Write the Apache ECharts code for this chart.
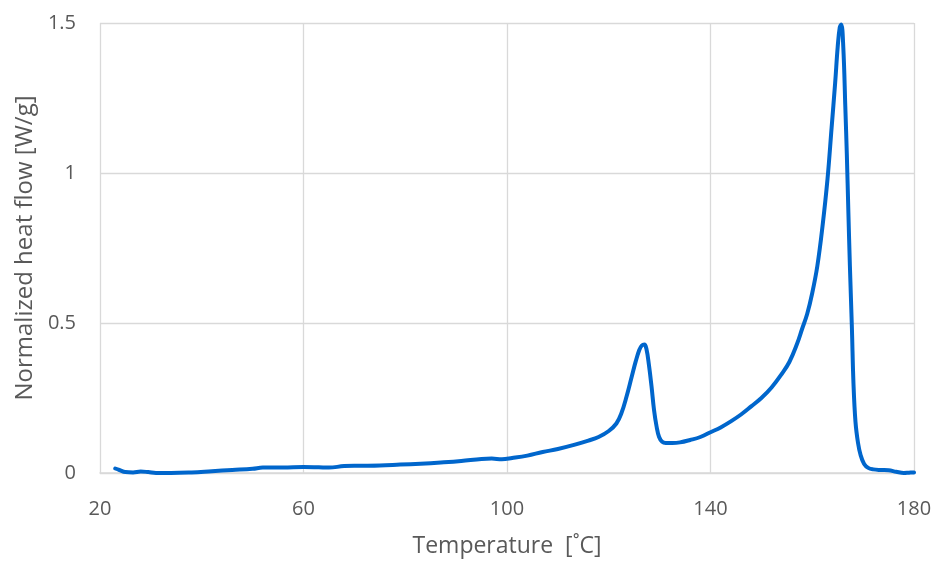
<!DOCTYPE html>
<html>
<head>
<meta charset="utf-8">
<script src="https://cdn.jsdelivr.net/npm/echarts@6/dist/echarts.min.js"></script>
<style>
  html, body { margin: 0; padding: 0; background: #ffffff; overflow: hidden; }
  #chart { width: 937px; height: 562px; }
</style>
</head>
<body>
<div id="chart"></div>
<script>
// DSC heating curve: temperature (°C) and normalized heat flow (W/g)
const temperature = [
  23, 23.8, 25, 26.5, 28, 29.5, 31, 34, 38, 42, 46, 50, 52, 56, 60, 63, 65, 68, 71, 75,
  79, 83, 87, 91, 95, 97, 99, 101, 104, 107, 110, 113, 116, 118, 120, 121.5, 122.5, 123.5,
  124.5, 125.3, 126, 126.5, 127, 127.4, 127.9, 128.4, 128.9, 129.4, 129.9, 130.5, 131.2,
  132.5, 134, 136, 138, 140, 142, 144, 146, 148, 150, 152, 154, 155.5, 157, 158, 159, 160,
  161, 162, 163, 163.8, 164.5, 165, 165.4, 165.7, 166.1, 166.5, 166.8, 167.1, 167.4, 167.8,
  168.1, 168.5, 169, 169.5, 170.2, 171, 172, 173.5, 175, 176.5, 178, 179, 180
];
const heatFlow = [
  0.015, 0.010, 0.003, 0.002, 0.005, 0.003, 0.000, 0.000, 0.002, 0.006, 0.010, 0.014, 0.018,
  0.018, 0.020, 0.019, 0.018, 0.023, 0.024, 0.025, 0.028, 0.031, 0.035, 0.040, 0.047, 0.048,
  0.046, 0.050, 0.058, 0.070, 0.080, 0.093, 0.108, 0.120, 0.140, 0.165, 0.200, 0.255, 0.320,
  0.372, 0.410, 0.425, 0.428, 0.414, 0.360, 0.290, 0.210, 0.155, 0.120, 0.104, 0.100, 0.100,
  0.102, 0.110, 0.120, 0.136, 0.152, 0.172, 0.195, 0.222, 0.250, 0.285, 0.330, 0.370, 0.430,
  0.480, 0.530, 0.600, 0.690, 0.820, 0.980, 1.150, 1.300, 1.420, 1.485, 1.495, 1.420, 1.220,
  1.060, 0.870, 0.690, 0.480, 0.300, 0.170, 0.100, 0.060, 0.030, 0.017, 0.012, 0.010, 0.009,
  0.004, 0.000, 0.001, 0.002
];
const xTicks = { min: 20, max: 180, interval: 40 };
const yTicks = { min: 0, max: 1.5, interval: 0.5 };

const points = temperature.map((t, i) => [t, heatFlow[i]]);

const fontFamily = "'Liberation Sans Narrow', 'Open Sans', sans-serif";
const chart = echarts.init(document.getElementById('chart'), null, { renderer: 'canvas' });
chart.setOption({
  backgroundColor: '#ffffff',
  animation: false,
  grid: { left: 100, right: 23, top: 23, bottom: 89, containLabel: false, outerBoundsMode: 'none' },
  xAxis: {
    type: 'value',
    min: xTicks.min, max: xTicks.max, interval: xTicks.interval,
    name: 'Temperature  [˚C]',
    nameLocation: 'middle',
    nameGap: 62,
    nameTextStyle: { color: '#595959', fontSize: 23, fontFamily },
    axisLine: { show: true, lineStyle: { color: '#d9d9d9', width: 1.5 } },
    axisTick: { show: false },
    axisLabel: { color: '#595959', fontSize: 20, fontFamily, margin: 26 },
    splitLine: { show: true, lineStyle: { color: '#d9d9d9', width: 1.3 } }
  },
  yAxis: {
    type: 'value',
    min: yTicks.min, max: yTicks.max, interval: yTicks.interval,
    name: 'Normalized heat flow [W/g]',
    nameLocation: 'middle',
    nameGap: 63,
    nameTextStyle: { color: '#595959', fontSize: 24, fontFamily },
    axisLine: { show: false },
    axisTick: { show: false },
    axisLabel: { color: '#595959', fontSize: 20, fontFamily, margin: 24 },
    splitLine: { show: true, lineStyle: { color: '#d9d9d9', width: 1.3 } }
  },
  series: [{
    type: 'line',
    data: points,
    showSymbol: false,
    smooth: 0.4,
    lineStyle: { color: '#0066cc', width: 4, cap: 'round', join: 'round' },
    itemStyle: { color: '#0066cc' }
  }]
});
</script>
</body>
</html>
